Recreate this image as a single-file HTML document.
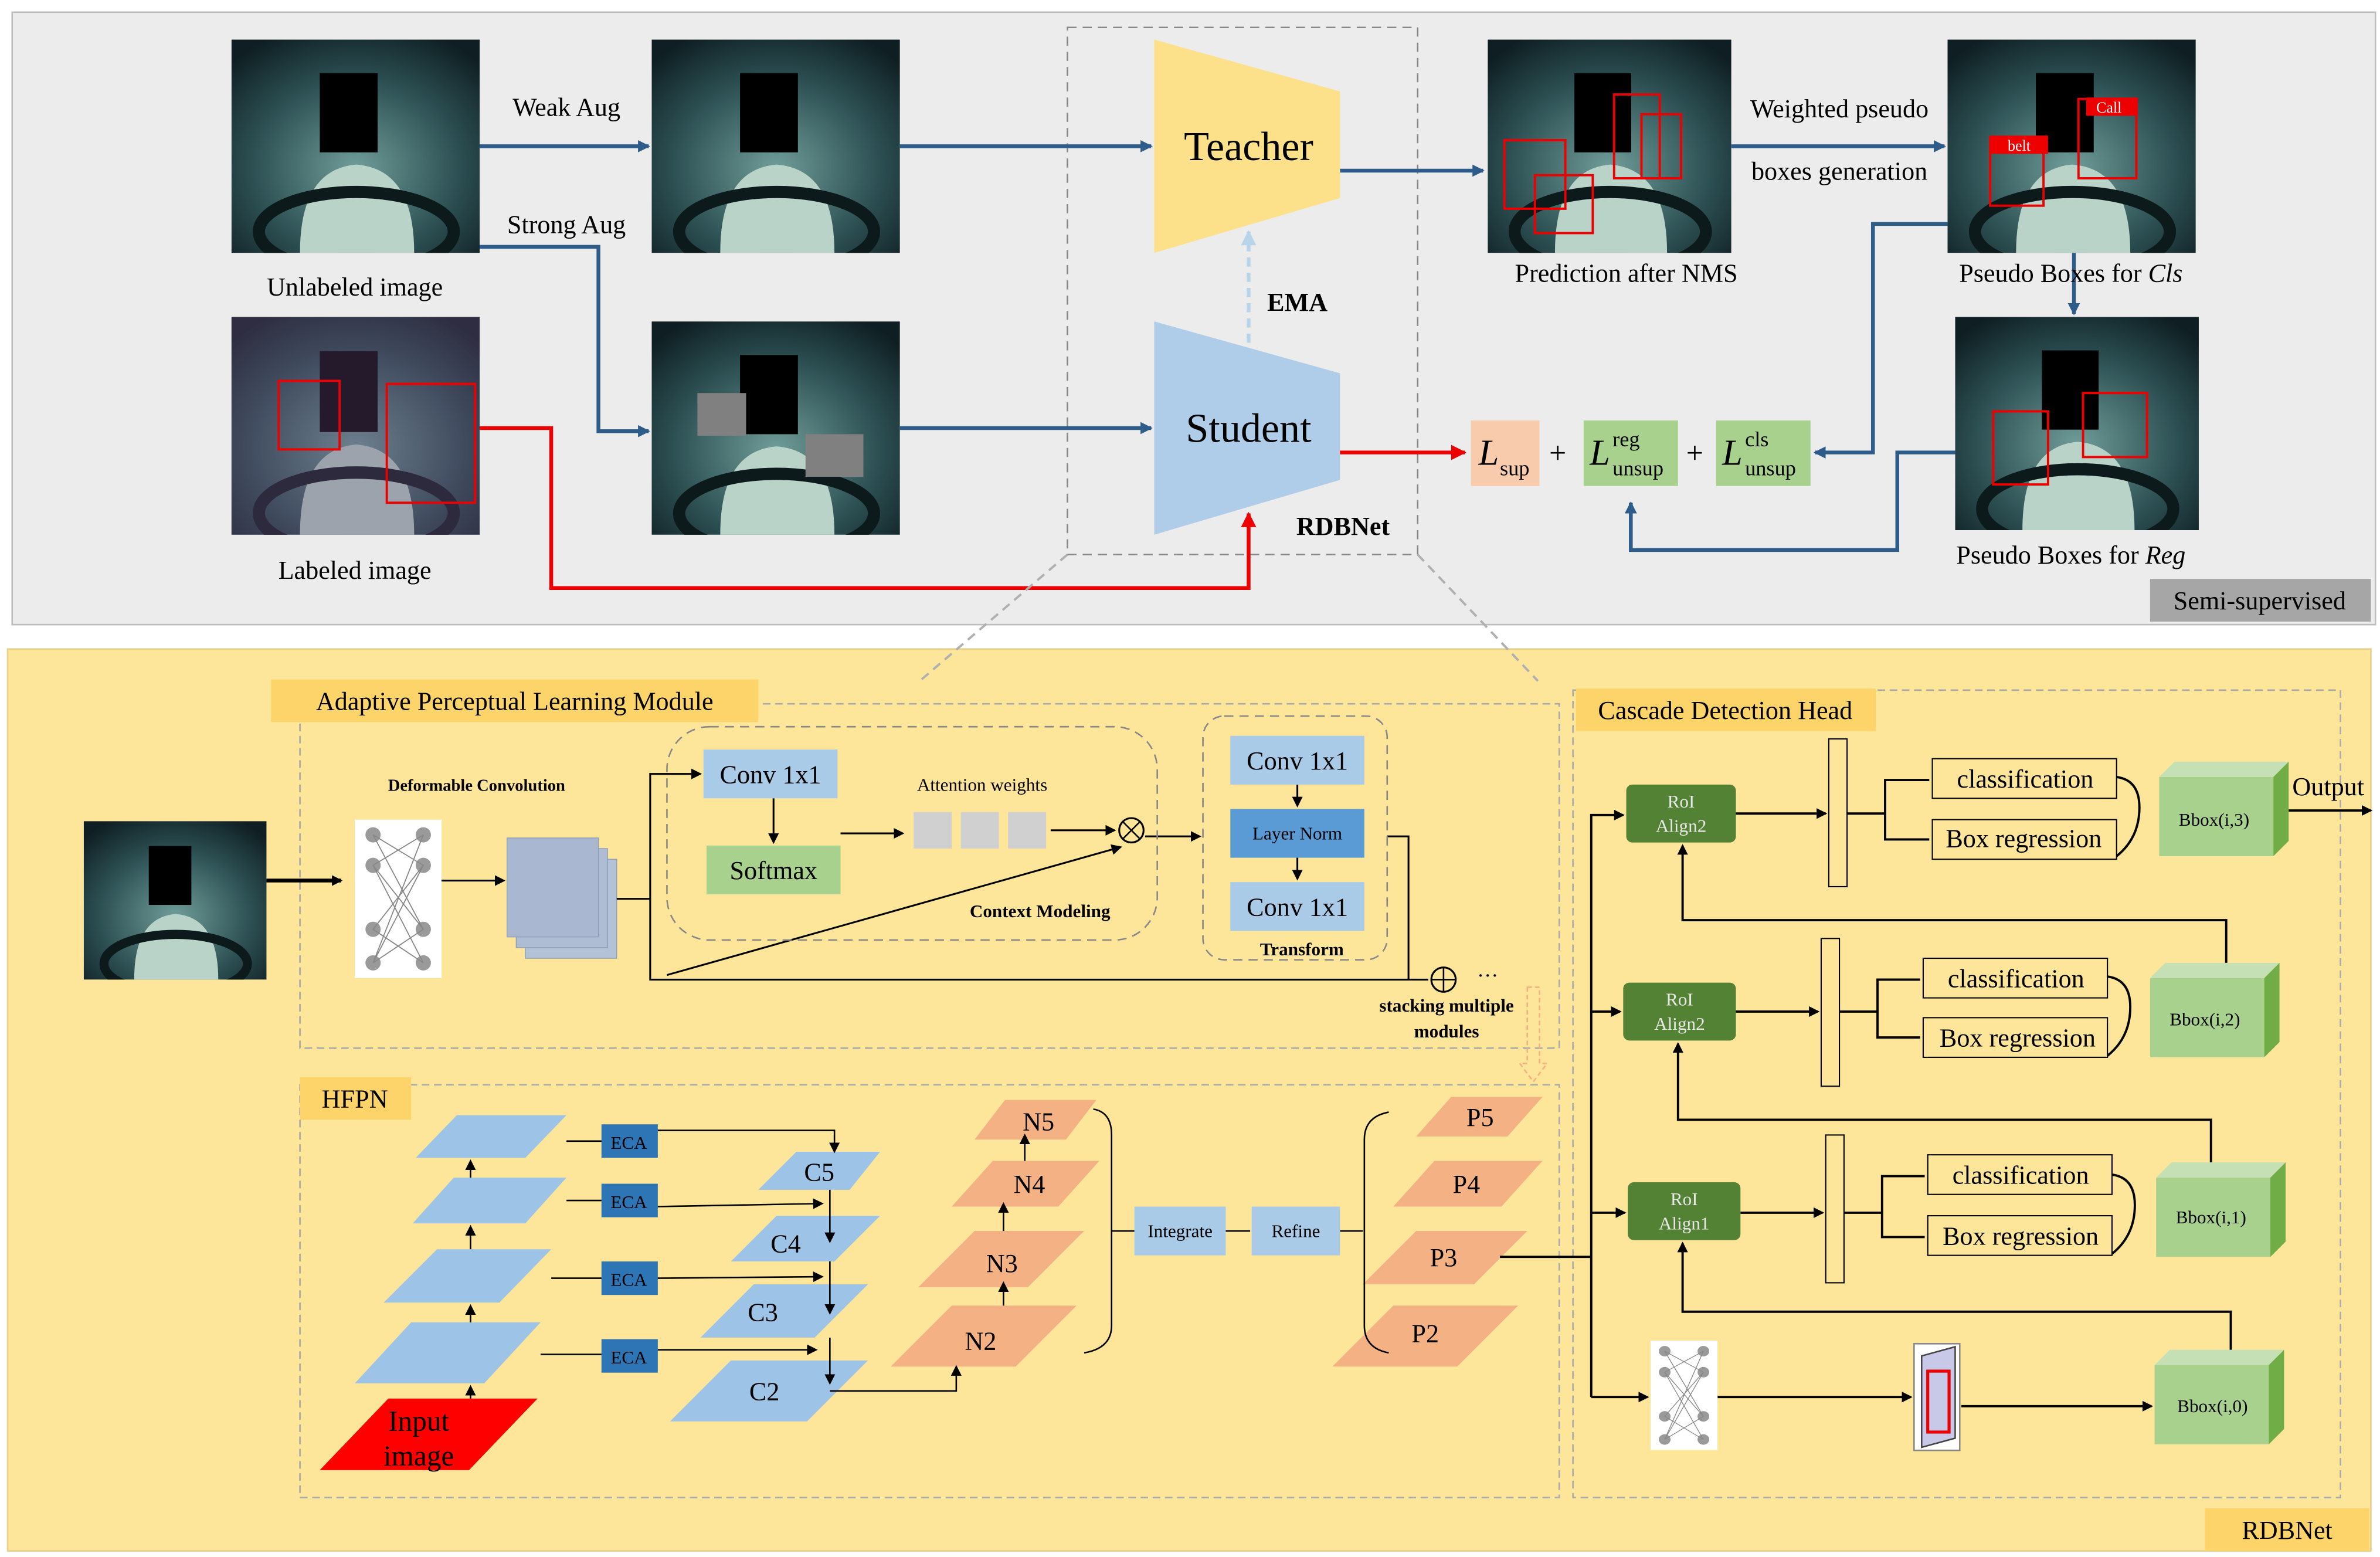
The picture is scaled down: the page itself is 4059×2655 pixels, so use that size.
<!DOCTYPE html>
<html><head><meta charset="utf-8"><style>html,body{margin:0;padding:0;background:#fff}svg{display:block}</style></head>
<body>
<svg xmlns="http://www.w3.org/2000/svg" width="4059" height="2655" viewBox="0 0 1563 1022" preserveAspectRatio="none" font-family="Liberation Serif, serif">
<defs>
<radialGradient id="pg" cx="0.5" cy="0.6" r="0.7"><stop offset="0" stop-color="#6f9c98"/><stop offset="0.6" stop-color="#2c4f52"/><stop offset="1" stop-color="#0f1e22"/></radialGradient>
<marker id="ab" markerWidth="8" markerHeight="8" refX="7" refY="4" orient="auto" markerUnits="userSpaceOnUse"><path d="M0,0 L8,4 L0,8 z" fill="#2e5c8a"/></marker>
<marker id="ak" markerWidth="7" markerHeight="7" refX="6" refY="3.5" orient="auto" markerUnits="userSpaceOnUse"><path d="M0,0 L7,3.5 L0,7 z" fill="#000"/></marker>
<marker id="ar" markerWidth="10" markerHeight="10" refX="9" refY="5" orient="auto" markerUnits="userSpaceOnUse"><path d="M0,0 L10,5 L0,10 z" fill="#e00"/></marker>
<marker id="al" markerWidth="10" markerHeight="10" refX="9" refY="5" orient="auto" markerUnits="userSpaceOnUse"><path d="M0,0 L10,5 L0,10 z" fill="#b8d3ea"/></marker>
<symbol id="photo" viewBox="0 0 163 140" preserveAspectRatio="none">
<rect width="163" height="140" fill="url(#pg)"/>
<path d="M45,140 Q45,85 82,82 Q120,85 120,140z" fill="#b9d3c8"/>
<ellipse cx="82" cy="126" rx="64" ry="26" fill="none" stroke="#0d1a1c" stroke-width="8"/>
<rect x="58" y="22" width="38" height="52" fill="#000"/>
</symbol>
<g id="dc"><rect width="57" height="104" fill="#fff"/><g fill="#9a9a9a"><circle cx="12" cy="10" r="5"/><circle cx="45" cy="10" r="5"/><circle cx="12" cy="30" r="5"/><circle cx="45" cy="30" r="5"/><circle cx="12" cy="72" r="5"/><circle cx="45" cy="72" r="5"/><circle cx="12" cy="94" r="5"/><circle cx="45" cy="94" r="5"/></g><path d="M12,10 L45,30 L12,72 L45,94 M45,10 L12,30 L45,72 L12,94 M12,10 L45,72 M45,10 L12,94 M12,30 L45,94 M45,30 L12,94" stroke="#888" stroke-width="0.7" fill="none"/></g>
<g id="cube"><rect x="0" y="10" width="75" height="52" fill="#a9d18e"/><path d="M0,10 L10,0 L85,0 L75,10z" fill="#c5e0b4"/><path d="M75,10 L85,0 L85,52 L75,62z" fill="#70ad47"/></g>
</defs>

<rect x="8" y="8" width="1552" height="402" fill="#ececec" stroke="#bdbdbd"/>
<rect x="1412" y="380" width="145" height="28" fill="#a6a6a6"/>
<text x="1484" y="400" font-size="17" text-anchor="middle">Semi-supervised</text>

<use href="#photo" x="152" y="26" width="163" height="140"/>
<use href="#photo" x="428" y="26" width="163" height="140"/>
<use href="#photo" x="152" y="208" width="163" height="143"/>
<use href="#photo" x="428" y="211" width="163" height="140"/>
<use href="#photo" x="977" y="26" width="160" height="140"/>
<use href="#photo" x="1279" y="26" width="163" height="140"/>
<use href="#photo" x="1284" y="208" width="160" height="140"/>
<rect x="152" y="208" width="163" height="143" fill="#6b4b7a" opacity="0.35"/>
<rect x="458" y="258" width="32" height="28" fill="#808080"/><rect x="529" y="285" width="38" height="28" fill="#808080"/>
<g fill="none" stroke="#e00" stroke-width="1.5">
<rect x="183" y="250" width="40" height="45"/><rect x="254" y="252" width="58" height="78"/>
<rect x="988" y="92" width="40" height="45"/><rect x="1008" y="115" width="38" height="38"/><rect x="1060" y="62" width="30" height="55"/><rect x="1078" y="75" width="26" height="42"/>
<rect x="1307" y="90" width="35" height="45"/><rect x="1365" y="65" width="38" height="52"/>
<rect x="1309" y="270" width="36" height="48"/><rect x="1368" y="258" width="42" height="42"/>
</g>
<rect x="1307" y="89" width="38" height="12" fill="#e00"/><text x="1326" y="99" font-size="10" fill="#fff" text-anchor="middle">belt</text>
<rect x="1370" y="64" width="34" height="12" fill="#e00"/><text x="1385" y="74" font-size="10" fill="#fff" text-anchor="middle">Call</text>

<rect x="701" y="18" width="230" height="346" fill="none" stroke="#888" stroke-dasharray="6,4"/>
<path d="M758,26 L880,60 L880,130 L758,166z" fill="#fde08a"/>
<text x="820" y="105" font-size="27" text-anchor="middle">Teacher</text>
<path d="M758,211 L880,245 L880,315 L758,351z" fill="#afcde8"/>
<text x="820" y="290" font-size="27" text-anchor="middle">Student</text>
<line x1="820" y1="225" x2="820" y2="152" stroke="#b8d3ea" stroke-width="2.5" stroke-dasharray="6,4" marker-end="url(#al)"/>
<text x="852" y="204" font-size="17" font-weight="bold" text-anchor="middle">EMA</text>
<text x="882" y="351" font-size="17" font-weight="bold" text-anchor="middle">RDBNet</text>

<g stroke="#2e5c8a" stroke-width="2.5" fill="none" marker-end="url(#ab)">
<path d="M315,96 L426,96"/>
<path d="M315,162 L393,162 L393,283 L426,283"/>
<path d="M591,96 L756,96"/>
<path d="M591,281 L756,281"/>
<path d="M880,112 L974,112"/>
<path d="M1137,96 L1277,96"/>
<path d="M1362,166 L1362,206"/>
<path d="M1279,147 L1230,147 L1230,297 L1192,297"/>
<path d="M1284,297 L1246,297 L1246,361 L1071,361 L1071,330"/>
</g>
<g stroke="#e00" stroke-width="2.5" fill="none" marker-end="url(#ar)">
<path d="M315,281 L362,281 L362,386 L820,386 L820,337"/>
<path d="M880,297 L962,297"/>
</g>
<g font-size="17" text-anchor="middle">
<text x="372" y="76">Weak Aug</text><text x="372" y="153">Strong Aug</text>
<text x="1208" y="77">Weighted pseudo</text><text x="1208" y="118">boxes generation</text>
<text x="233" y="194">Unlabeled image</text><text x="233" y="380">Labeled image</text>
<text x="1068" y="185">Prediction after NMS</text>
<text x="1360" y="185">Pseudo Boxes for <tspan font-style="italic">Cls</tspan></text>
<text x="1360" y="370">Pseudo Boxes for <tspan font-style="italic">Reg</tspan></text>
</g>
<rect x="966" y="276" width="45" height="43" fill="#f8cbad"/>
<text x="971" y="305" font-size="24" font-style="italic">L</text><text x="985" y="312" font-size="14">sup</text>
<text x="1023" y="304" font-size="20" text-anchor="middle">+</text>
<rect x="1040" y="276" width="62" height="43" fill="#a9d18e"/>
<text x="1044" y="305" font-size="24" font-style="italic">L</text><text x="1059" y="293" font-size="14">reg</text><text x="1059" y="312" font-size="14">unsup</text>
<text x="1113" y="304" font-size="20" text-anchor="middle">+</text>
<rect x="1127" y="276" width="62" height="43" fill="#a9d18e"/>
<text x="1131" y="305" font-size="24" font-style="italic">L</text><text x="1146" y="293" font-size="14">cls</text><text x="1146" y="312" font-size="14">unsup</text>

<rect x="5" y="426" width="1552" height="592" fill="#fde59a" stroke="#e8d18a"/>
<rect x="1448" y="990" width="108" height="28" fill="#fcd46a"/>
<text x="1502" y="1010" font-size="17" text-anchor="middle">RDBNet</text>
<g stroke="#b0b0b0" stroke-width="1.5" stroke-dasharray="6,4" fill="none">
<path d="M701,364 L604,447"/><path d="M931,364 L1010,447"/>
</g>

<rect x="197" y="462" width="827" height="226" fill="none" stroke="#aaa" stroke-dasharray="5,3"/>
<rect x="178" y="446" width="320" height="28" fill="#fcd46a"/>
<text x="338" y="466" font-size="17" text-anchor="middle">Adaptive Perceptual Learning Module</text>
<use href="#photo" x="55" y="539" width="120" height="104"/>
<line x1="175" y1="578" x2="224" y2="578" stroke="#000" stroke-width="2.5" marker-end="url(#ak)"/>
<use href="#dc" x="233" y="538"/>
<text x="313" y="519" font-size="11" font-weight="bold" text-anchor="middle">Deformable Convolution</text>
<line x1="290" y1="578" x2="331" y2="578" stroke="#000" stroke-width="1.2" marker-end="url(#ak)"/>
<rect x="345" y="564" width="60" height="65" fill="#b4c2d8" stroke="#8a9bb5" stroke-width="0.5"/>
<rect x="339" y="557" width="60" height="65" fill="#aebcd4" stroke="#8a9bb5" stroke-width="0.5"/>
<rect x="333" y="550" width="60" height="65" fill="#a9b8d0" stroke="#8a9bb5" stroke-width="0.5"/>
<g stroke="#000" stroke-width="1.2" fill="none">
<path d="M405,590 L427,590 L427,508 L460,508" marker-end="url(#ak)"/>
<path d="M427,590 L427,643 L938,643"/>
<path d="M508,524 L508,553" marker-end="url(#ak)"/>
<path d="M552,547 L593,547" marker-end="url(#ak)"/>
<path d="M690,545 L732,545" marker-end="url(#ak)"/>
<path d="M438,640 L736,556" marker-end="url(#ak)"/>
<path d="M752,549 L788,549" marker-end="url(#ak)"/>
<path d="M852,515 L852,529" marker-end="url(#ak)"/>
<path d="M852,563 L852,577" marker-end="url(#ak)"/>
<path d="M911,549 L925,549 L925,643"/>
</g>
<rect x="438" y="477" width="322" height="140" rx="28" fill="none" stroke="#888" stroke-dasharray="6,4"/>
<rect x="462" y="492" width="88" height="32" fill="#a9cbe8"/><text x="506" y="514" font-size="17" text-anchor="middle">Conv 1x1</text>
<rect x="464" y="555" width="88" height="32" fill="#a9d18e"/><text x="508" y="577" font-size="17" text-anchor="middle">Softmax</text>
<rect x="600" y="533" width="25" height="24" fill="#d0d0d0"/><rect x="631" y="533" width="25" height="24" fill="#d0d0d0"/><rect x="662" y="533" width="25" height="24" fill="#d0d0d0"/>
<text x="645" y="519" font-size="12" text-anchor="middle">Attention weights</text>
<circle cx="743" cy="545" r="8" fill="none" stroke="#000" stroke-width="1.2"/><path d="M737,539 L749,551 M749,539 L737,551" stroke="#000"/>
<text x="683" y="602" font-size="12" font-weight="bold" text-anchor="middle">Context Modeling</text>
<rect x="790" y="470" width="121" height="160" rx="14" fill="none" stroke="#888" stroke-dasharray="6,4"/>
<rect x="808" y="483" width="88" height="32" fill="#a9cbe8"/><text x="852" y="505" font-size="17" text-anchor="middle">Conv 1x1</text>
<rect x="808" y="531" width="88" height="32" fill="#5b9bd5"/><text x="852" y="551" font-size="12" text-anchor="middle">Layer Norm</text>
<rect x="808" y="579" width="88" height="32" fill="#a9cbe8"/><text x="852" y="601" font-size="17" text-anchor="middle">Conv 1x1</text>
<text x="855" y="627" font-size="12" font-weight="bold" text-anchor="middle">Transform</text>
<circle cx="948" cy="643" r="8" fill="none" stroke="#000" stroke-width="1.2"/><path d="M940,643 L956,643 M948,635 L948,651" stroke="#000"/>
<text x="970" y="645" font-size="14">···</text>
<text x="950" y="664" font-size="12" font-weight="bold" text-anchor="middle">stacking multiple</text>
<text x="950" y="681" font-size="12" font-weight="bold" text-anchor="middle">modules</text>
<path d="M1003,648 L1003,698 L998,698 L1007,710 L1016,698 L1011,698 L1011,648z" fill="none" stroke="#f4b183" stroke-dasharray="3,2"/>

<rect x="197" y="712" width="827" height="271" fill="none" stroke="#aaa" stroke-dasharray="5,3"/>
<rect x="197" y="707" width="73" height="28" fill="#fcd46a"/>
<text x="233" y="727" font-size="17" text-anchor="middle">HFPN</text>
<g fill="#9dc3e6">
<path d="M300,732 L372,732 L345,760 L273,760z"/>
<path d="M298,773 L372,773 L345,803 L271,803z"/>
<path d="M287,820 L362,820 L328,855 L252,855z"/>
<path d="M270,868 L355,868 L318,908 L233,908z"/>
<path d="M523,756 L578,756 L558,781 L498,781z"/>
<path d="M510,798 L578,798 L548,828 L480,828z"/>
<path d="M495,843 L570,843 L535,878 L460,878z"/>
<path d="M480,893 L570,893 L530,933 L440,933z"/>
</g>
<path d="M255,918 L353,918 L308,965 L210,965z" fill="#f00"/>
<text x="275" y="939" font-size="19" text-anchor="middle">Input</text><text x="275" y="962" font-size="19" text-anchor="middle">image</text>
<g fill="#f4b183">
<path d="M660,722 L720,722 L700,748 L640,748z"/>
<path d="M652,762 L722,762 L695,792 L625,792z"/>
<path d="M640,808 L712,808 L675,845 L603,845z"/>
<path d="M625,857 L707,857 L667,897 L585,897z"/>
<path d="M953,720 L1013,720 L990,746 L930,746z"/>
<path d="M942,762 L1013,762 L986,792 L915,792z"/>
<path d="M930,808 L1003,808 L968,843 L895,843z"/>
<path d="M915,857 L997,857 L957,897 L875,897z"/>
</g>
<g fill="#2e75b6"><rect x="395" y="738" width="37" height="22"/><rect x="395" y="777" width="37" height="22"/><rect x="395" y="828" width="37" height="22"/><rect x="395" y="879" width="37" height="22"/></g>
<g font-size="12" text-anchor="middle"><text x="413" y="754">ECA</text><text x="413" y="793">ECA</text><text x="413" y="844">ECA</text><text x="413" y="895">ECA</text></g>
<g font-size="17" text-anchor="middle">
<text x="538" y="775">C5</text><text x="516" y="822">C4</text><text x="501" y="867">C3</text><text x="502" y="919">C2</text>
<text x="682" y="742">N5</text><text x="676" y="783">N4</text><text x="658" y="835">N3</text><text x="644" y="886">N2</text>
<text x="972" y="739">P5</text><text x="963" y="783">P4</text><text x="948" y="831">P3</text><text x="936" y="881">P2</text>
</g>
<g stroke="#000" stroke-width="1" fill="none">
<path d="M309,918 L309,910" marker-end="url(#ak)"/>
<path d="M309,868 L309,857" marker-end="url(#ak)"/>
<path d="M309,820 L309,805" marker-end="url(#ak)"/>
<path d="M309,773 L309,762" marker-end="url(#ak)"/>
<path d="M372,749 L395,749 M372,788 L395,788 M362,839 L395,839 M355,889 L395,889"/>
<path d="M432,742 L548,742 L548,756" marker-end="url(#ak)"/>
<path d="M432,792 L540,790" marker-end="url(#ak)"/>
<path d="M432,839 L540,838" marker-end="url(#ak)"/>
<path d="M432,886 L536,886" marker-end="url(#ak)"/>
<path d="M545,781 L545,815" marker-end="url(#ak)"/>
<path d="M545,828 L545,862" marker-end="url(#ak)"/>
<path d="M545,878 L545,908" marker-end="url(#ak)"/>
<path d="M545,913 L628,913 L628,897" marker-end="url(#ak)"/>
<path d="M659,857 L659,842" marker-end="url(#ak)"/>
<path d="M659,808 L659,790" marker-end="url(#ak)"/>
<path d="M673,762 L673,745" marker-end="url(#ak)"/>
<path d="M718,728 Q730,730 730,745 L730,870 Q730,885 712,888"/>
<path d="M730,808 L745,808 M805,808 L821,808" />
<path d="M880,808 L895,808"/>
<path d="M912,730 Q896,733 896,748 L896,870 Q896,885 912,888"/>
</g>
<rect x="745" y="792" width="60" height="32" fill="#a9cbe8"/><text x="775" y="812" font-size="12" text-anchor="middle">Integrate</text>
<rect x="822" y="792" width="58" height="32" fill="#a9cbe8"/><text x="851" y="812" font-size="12" text-anchor="middle">Refine</text>

<rect x="1033" y="453" width="504" height="530" fill="none" stroke="#aaa" stroke-dasharray="5,3"/>
<rect x="1035" y="452" width="197" height="28" fill="#fcd46a"/>
<text x="1133" y="472" font-size="17" text-anchor="middle">Cascade Detection Head</text>
<g stroke="#000" stroke-width="1.5" fill="none">
<path d="M985,825 L1045,825"/>
<path d="M1045,917 L1045,535 L1066,535" marker-end="url(#ak)"/>
<path d="M1045,664 L1064,664" marker-end="url(#ak)"/>
<path d="M1045,796 L1067,796" marker-end="url(#ak)"/>
<path d="M1045,917 L1082,917" marker-end="url(#ak)"/>
<path d="M1128,917 L1255,917" marker-end="url(#ak)"/>
<path d="M1288,923 L1413,923" marker-end="url(#ak)"/>
<path d="M1140,534 L1199,534" marker-end="url(#ak)"/>
<path d="M1140,664 L1194,664" marker-end="url(#ak)"/>
<path d="M1143,796 L1197,796" marker-end="url(#ak)"/>
<path d="M1213,534 L1238,534 L1238,512 L1267,512 M1238,534 L1238,551 L1267,551" />
<path d="M1208,664 L1233,664 L1233,643 L1261,643 M1233,664 L1233,681 L1261,681"/>
<path d="M1211,796 L1236,796 L1236,772 L1264,772 M1236,796 L1236,812 L1264,812"/>
<path d="M1390,510 Q1405,512 1405,530 Q1405,550 1390,562"/>
<path d="M1384,641 Q1399,643 1399,661 Q1399,681 1384,693"/>
<path d="M1387,771 Q1402,773 1402,791 Q1402,811 1387,823"/>
<path d="M1503,532 L1557,532" marker-end="url(#ak)"/>
<path d="M1462,632 L1462,604 L1105,604 L1105,555" marker-end="url(#ak)"/>
<path d="M1452,763 L1452,735 L1102,735 L1102,685" marker-end="url(#ak)"/>
<path d="M1465,886 L1465,861 L1105,861 L1105,816" marker-end="url(#ak)"/>
</g>
<g fill="#548235"><rect x="1068" y="515" width="72" height="38" rx="4"/><rect x="1066" y="645" width="74" height="38" rx="4"/><rect x="1069" y="776" width="74" height="38" rx="4"/></g>
<g font-size="12" text-anchor="middle" fill="#e8e8e8">
<text x="1104" y="530">RoI</text><text x="1104" y="546">Align2</text>
<text x="1103" y="660">RoI</text><text x="1103" y="676">Align2</text>
<text x="1106" y="791">RoI</text><text x="1106" y="807">Align1</text>
</g>
<g fill="#fde59a" stroke="#000" stroke-width="0.8"><rect x="1201" y="485" width="12" height="97"/><rect x="1196" y="616" width="12" height="97"/><rect x="1199" y="745" width="12" height="97"/></g>
<g fill="#fde59a" stroke="#000" stroke-width="0.8">
<rect x="1269" y="498" width="121" height="26"/><rect x="1269" y="538" width="121" height="26"/>
<rect x="1263" y="629" width="121" height="26"/><rect x="1263" y="668" width="121" height="26"/>
<rect x="1266" y="758" width="121" height="26"/><rect x="1266" y="798" width="121" height="26"/>
</g>
<g font-size="17" text-anchor="middle">
<text x="1330" y="517">classification</text><text x="1329" y="556">Box regression</text>
<text x="1324" y="648">classification</text><text x="1325" y="687">Box regression</text>
<text x="1327" y="777">classification</text><text x="1327" y="817">Box regression</text>
<text x="1529" y="522">Output</text>
</g>
<use href="#cube" x="1418" y="500"/><use href="#cube" x="1412" y="632"/><use href="#cube" x="1416" y="763"/><use href="#cube" x="1415" y="886"/>
<g font-size="12" text-anchor="middle">
<text x="1454" y="542">Bbox(i,3)</text><text x="1448" y="673">Bbox(i,2)</text><text x="1452" y="803">Bbox(i,1)</text><text x="1453" y="927">Bbox(i,0)</text>
</g>
<use href="#dc" x="1084" y="880" transform="translate(1084 880) scale(0.77 0.69) translate(-1084 -880)"/>
<rect x="1257" y="882" width="30" height="70" fill="#fff" stroke="#888"/>
<path d="M1262,890 L1284,884 L1284,944 L1262,950z" fill="#c8c8e8" stroke="#444"/>
<rect x="1266" y="900" width="14" height="40" fill="none" stroke="#e00" stroke-width="2"/>
</svg>
</body></html>
